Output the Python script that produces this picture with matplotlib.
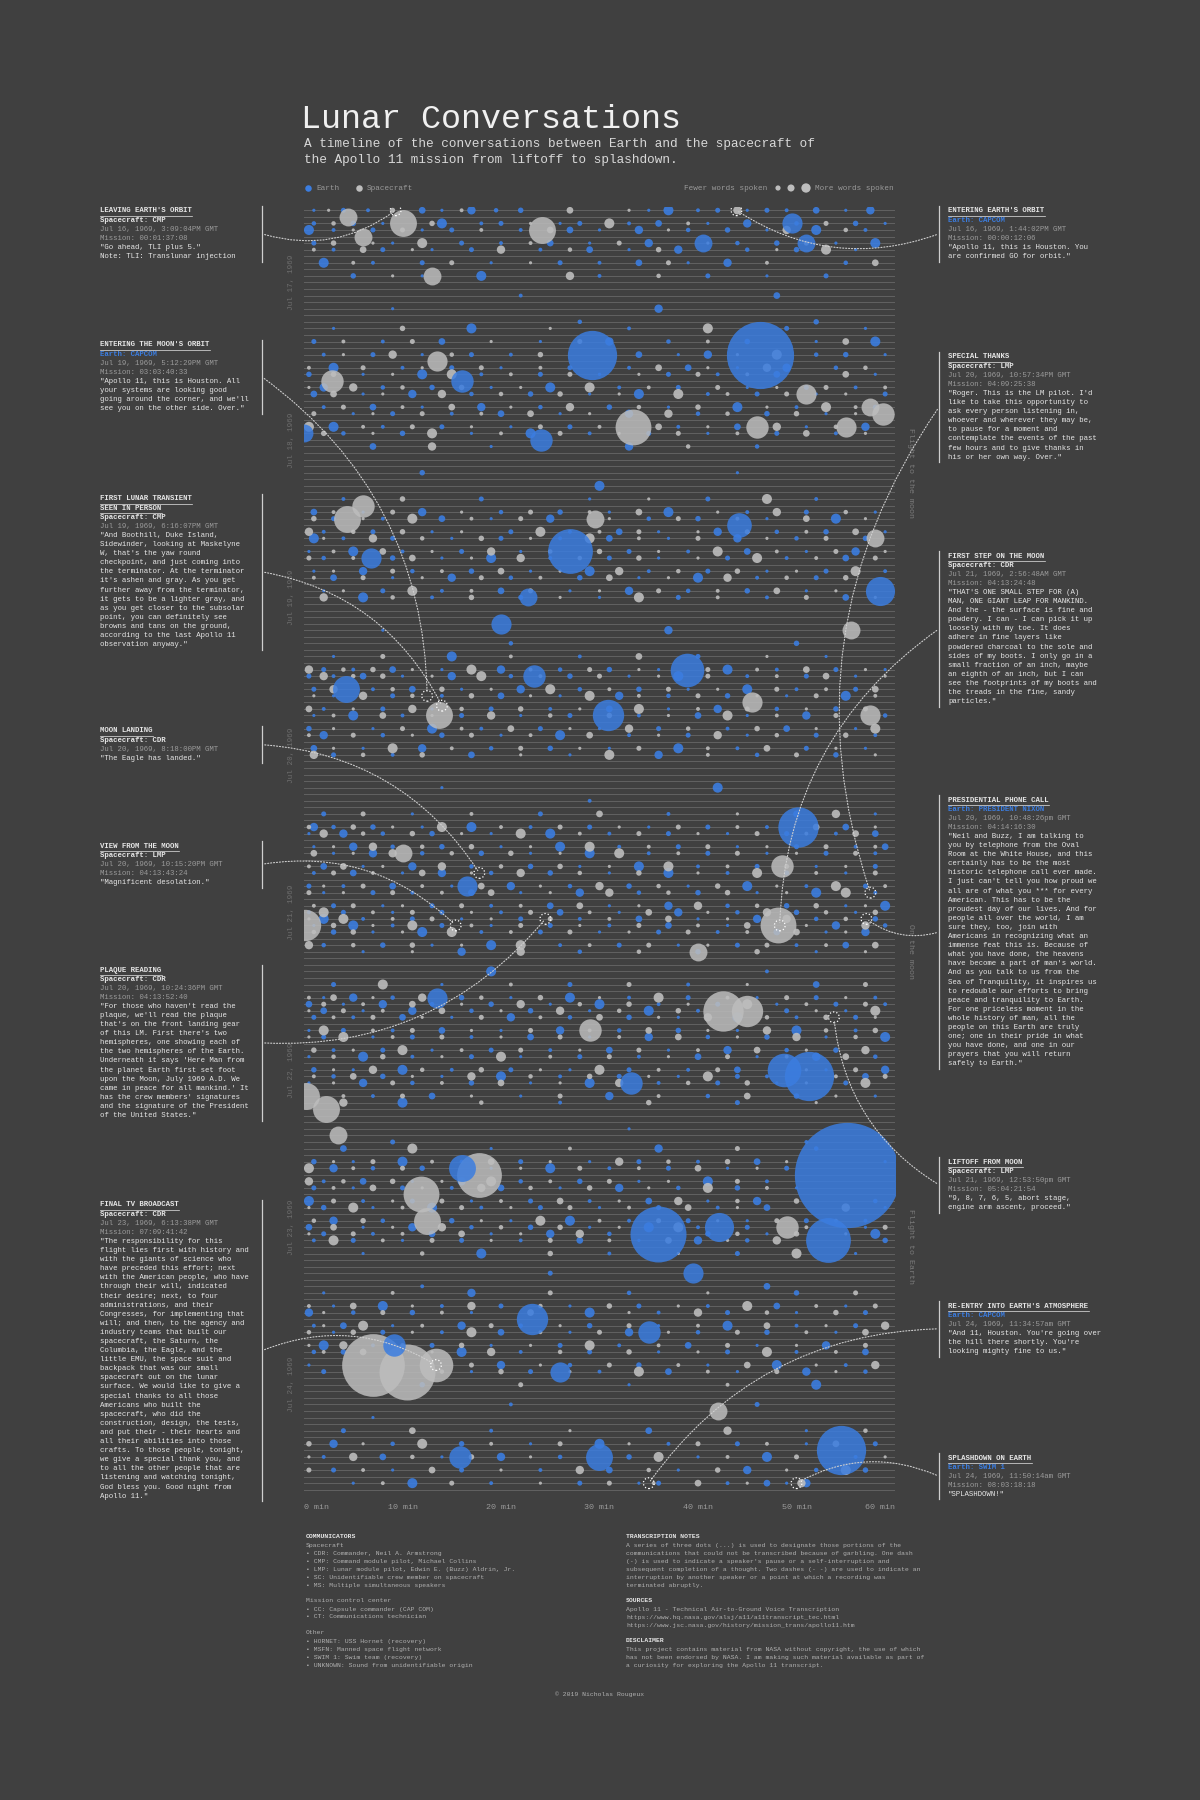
import matplotlib
matplotlib.use("Agg")
import matplotlib.pyplot as plt
import numpy as np

# ---------------- data ----------------
n_rows = 196
x_ticks = [0, 10, 20, 30, 40, 50, 60]
x_tick_labels = ["0 min", "10 min", "20 min", "30 min", "40 min", "50 min", "60 min"]
day_labels = ["Jul 17, 1969", "Jul 18, 1969", "Jul 19, 1969", "Jul 20, 1969",
              "Jul 21, 1969", "Jul 22, 1969", "Jul 23, 1969", "Jul 24, 1969"]
day_rows = [11, 35, 59, 83, 107, 131, 155, 179]

# large bubbles: row (hour), minute, words, speaker (E=Earth, S=Spacecraft)
big_rows = [2, 3, 22, 22, 33, 47, 52, 47, 48, 58, 70, 73, 71, 77, 77, 77, 94, 109, 109,
            122, 122, 132, 131, 135, 137, 147, 147, 150, 154, 156, 157, 155, 155, 176, 177,
            176, 169, 189, 190, 190, 173, 177, 35, 23, 26, 34, 33, 33, 31, 53, 59, 98, 120,
            133, 146, 171, 10, 5, 26, 28, 30, 45, 50, 63, 64, 75, 100, 103, 113, 125, 141,
            162, 183, 4, 1, 2, 5]
big_min = [10.0, 24.2, 29.2, 46.3, 33.4, 4.4, 27.0, 29.5, 44.2, 58.5, 38.9, 4.3, 23.3, 30.9,
           13.7, 57.5, 50.2, 0.1, 48.1, 42.5, 45.0, 51.3, 48.7, 0.2, 2.2, 55.1, 17.8, 11.9,
           12.5, 35.9, 53.2, 42.1, 49.0, 7.0, 10.5, 13.4, 23.1, 54.5, 29.9, 15.8, 9.1, 26.0,
           24.1, 13.5, 2.8, 0.0, 46.0, 55.0, 58.8, 6.8, 22.7, 10.0, 13.5, 33.2, 16.0, 35.0,
           13.0, 40.5, 16.0, 51.0, 57.5, 6.0, 58.0, 20.0, 55.5, 45.5, 48.5, 16.5, 40.0, 29.0,
           3.5, 39.5, 42.0, 6.0, 4.5, 49.5, 51.0]
big_words = [144, 144, 484, 900, 256, 144, 400, 64, 121, 169, 225, 144, 100, 196, 144, 81, 324,
             196, 256, 324, 196, 484, 225, 144, 144, 2209, 400, 256, 144, 625, 400, 169, 100,
             784, 625, 225, 196, 484, 144, 100, 100, 81, 100, 81, 100, 64, 100, 81, 100, 81, 64,
             64, 81, 100, 144, 100, 64, 64, 100, 81, 64, 100, 64, 81, 64, 81, 100, 81, 64, 100,
             64, 81, 64, 64, 64, 81, 64]
big_spk = list("SSEESSESEEEEEESSESSSSEESSESSSEEESSSSEEEEEEESSESSSEESEEEESEESSSSESSSESSSESSSEES")

# small dots per row: minutes for Earth and Spacecraft
earth_dots = {
    0: [1, 4, 6.5, 12, 14, 17, 19.5, 22, 35, 37, 40, 42, 45, 47, 49, 52, 55, 57.5],
    1: [3, 6, 9, 13, 16, 21, 25, 31, 38, 44, 49, 53, 58],
    2: [1, 5, 8, 14, 18, 20, 26, 28, 33, 36, 41, 45, 50, 56, 59],
    3: [0.5, 3, 7, 12, 15, 22, 27, 30, 34, 39, 43, 47, 52, 57],
    4: [2, 10, 14, 19, 23, 28, 32, 37, 42, 46, 51, 55],
    5: [1, 9, 16, 20, 25, 29, 35, 44, 48, 54, 58],
    6: [3, 8, 13, 17, 24, 29, 33, 38, 45, 50, 56],
    7: [0, 4, 11, 15, 21, 27, 31, 36, 41, 47, 52, 59],
    8: [2, 7, 12, 19, 26, 30, 34, 39, 43, 55],
    9: [1, 6, 16, 22, 28, 33, 37, 44, 50, 57],
    10: [5, 12, 18, 30, 41, 47, 53],
    13: [22, 48], 15: [9, 36], 17: [28, 52],
    18: [3, 17, 33, 49, 57], 19: [6, 21, 29, 40, 55],
    20: [1, 8, 14, 24, 31, 37, 45, 52, 58], 21: [4, 11, 19, 26, 35, 43, 50, 56],
    22: [2, 7, 12, 17, 21, 34, 38, 41, 52, 55, 59], 23: [1, 5, 9, 16, 25, 31, 36, 43, 51, 57],
    24: [3, 10, 15, 20, 27, 33, 39, 44, 49, 54], 25: [0.5, 6, 12, 18, 24, 30, 37, 42, 48, 58],
    26: [5, 9, 14, 22, 28, 35, 40, 47, 53, 57], 27: [2, 8, 13, 19, 25, 32, 38, 45, 51, 56],
    28: [1, 6, 11, 17, 23, 29, 34, 41, 46, 52, 59], 29: [4, 10, 16, 21, 27, 36, 43, 49, 55],
    30: [2, 7, 12, 18, 24, 31, 37, 44, 50, 58], 31: [5, 9, 15, 20, 26, 33, 40, 47, 53],
    32: [0.5, 6, 13, 19, 25, 30, 36, 42, 49, 56], 33: [3, 8, 14, 21, 27, 38, 44, 51, 57],
    34: [4, 10, 17, 23, 29, 35, 41, 48, 54], 35: [2, 9, 15, 30, 37, 43, 50, 59],
    36: [7, 19, 33, 46], 40: [12, 44], 42: [30],
    44: [4, 18, 29, 41, 52], 45: [2, 9, 15, 24, 33, 39, 48, 55],
    46: [1, 6, 12, 20, 26, 31, 37, 45, 51, 58], 47: [3, 8, 14, 19, 25, 35, 40, 47, 54],
    48: [0.5, 5, 11, 17, 23, 28, 33, 38, 49, 56], 49: [2, 7, 13, 21, 27, 32, 36, 42, 48, 53, 59],
    50: [1, 4, 9, 15, 20, 26, 31, 37, 44, 50, 57], 51: [3, 8, 12, 18, 24, 30, 35, 41, 46, 52, 58],
    52: [0.5, 5, 10, 16, 22, 33, 39, 45, 51, 56], 53: [2, 9, 14, 19, 25, 31, 36, 43, 49, 55],
    54: [4, 8, 13, 20, 26, 32, 38, 44, 50, 57], 55: [1, 6, 11, 17, 23, 29, 35, 41, 47, 53, 59],
    56: [3, 9, 15, 21, 28, 34, 40, 46, 52], 57: [5, 12, 18, 24, 31, 37, 43, 50, 56],
    58: [2, 8, 14, 20, 27, 33, 39, 45, 51], 59: [6, 13, 22, 30, 38, 47, 55],
    60: [10, 25, 41], 64: [8, 37], 66: [21, 50],
    68: [3, 15, 28, 40, 53], 69: [1, 7, 12, 19, 25, 32, 44, 50, 57],
    70: [2, 5, 9, 14, 20, 26, 31, 36, 43, 48, 54, 59], 71: [0.5, 3, 6, 10, 15, 21, 27, 33, 38, 45, 51, 56],
    72: [2, 5, 8, 12, 18, 24, 30, 35, 41, 47, 53, 58], 73: [1, 7, 11, 16, 22, 28, 34, 39, 45, 50, 56],
    74: [3, 9, 14, 20, 26, 32, 37, 43, 49, 55], 75: [0.5, 6, 11, 17, 23, 29, 35, 40, 46, 52, 58],
    76: [2, 8, 13, 19, 25, 31, 37, 42, 48, 54], 77: [1, 5, 10, 16, 22, 27, 34, 40, 45, 51, 59],
    78: [3, 9, 15, 21, 28, 34, 41, 47, 53], 79: [0.5, 7, 13, 18, 24, 30, 36, 43, 49, 56],
    80: [2, 8, 14, 20, 26, 33, 39, 45, 52, 58], 81: [4, 10, 16, 23, 29, 35, 42, 48, 55],
    82: [1, 6, 12, 19, 25, 31, 38, 44, 51, 57], 83: [3, 9, 17, 27, 36, 46, 54],
    84: [5, 20, 34, 50], 88: [14, 42], 90: [29],
    92: [2, 11, 24, 37, 50, 58], 93: [0.5, 5, 9, 14, 20, 27, 33, 40, 46, 53, 59],
    94: [1, 3, 7, 12, 17, 23, 29, 35, 41, 47, 55], 95: [0.5, 4, 8, 13, 19, 25, 31, 37, 43, 49, 54, 58],
    96: [2, 6, 10, 16, 21, 27, 33, 39, 45, 51, 57], 97: [1, 5, 9, 14, 20, 26, 32, 38, 44, 50, 56, 59],
    98: [3, 7, 12, 18, 23, 29, 35, 41, 47, 53, 58], 99: [0.5, 4, 9, 15, 21, 27, 33, 39, 45, 51, 57],
    100: [2, 6, 11, 17, 23, 28, 34, 40, 46, 52, 58], 101: [1, 5, 10, 14, 19, 25, 31, 37, 43, 49, 55],
    102: [3, 8, 12, 18, 24, 30, 36, 42, 48, 54, 59], 103: [0.5, 4, 9, 15, 21, 27, 33, 39, 45, 51, 57],
    104: [2, 7, 11, 17, 22, 28, 34, 40, 46, 52, 58], 105: [1, 5, 10, 16, 21, 27, 33, 39, 44, 50, 56],
    106: [3, 8, 13, 19, 25, 31, 37, 43, 49, 55, 59], 107: [0.5, 4, 9, 14, 20, 26, 32, 38, 44, 50, 56],
    108: [2, 6, 11, 16, 22, 28, 34, 40, 46, 52, 58], 109: [1, 5, 9, 14, 19, 25, 31, 37, 43, 54, 59],
    110: [3, 7, 12, 18, 24, 30, 36, 42, 48, 53, 57], 111: [0.5, 4, 10, 15, 21, 27, 33, 39, 45, 51, 56],
    112: [2, 8, 13, 19, 26, 32, 38, 44, 50, 55], 113: [6, 16, 28, 40, 52],
    116: [19, 47],
    118: [3, 14, 27, 39, 52], 119: [1, 6, 11, 18, 24, 31, 37, 44, 50, 57],
    120: [2, 5, 9, 16, 21, 27, 33, 39, 46, 52, 58], 121: [0.5, 4, 8, 13, 19, 25, 30, 36, 42, 48, 54, 59],
    122: [2, 6, 11, 17, 23, 29, 35, 40, 49, 55], 123: [1, 5, 10, 15, 21, 27, 33, 38, 44, 50, 56],
    124: [3, 8, 12, 18, 24, 30, 36, 41, 47, 53, 58], 125: [0.5, 4, 9, 14, 20, 26, 32, 38, 44, 50, 56],
    126: [2, 7, 11, 17, 23, 29, 35, 41, 47, 53, 59], 127: [1, 5, 10, 16, 21, 27, 33, 39, 45, 51, 57],
    128: [3, 8, 13, 19, 25, 31, 37, 43, 49, 54], 129: [0.5, 6, 11, 17, 22, 28, 34, 40, 46, 52, 58],
    130: [2, 7, 12, 18, 24, 30, 36, 42, 47, 56], 131: [1, 5, 10, 15, 21, 27, 33, 39, 44, 53, 59],
    132: [3, 8, 14, 20, 26, 32, 38, 44, 47, 57], 133: [0.5, 6, 11, 17, 23, 29, 36, 42, 48, 55],
    134: [4, 9, 15, 21, 27, 34, 40, 46, 53], 135: [7, 13, 22, 31, 41, 50, 58], 136: [10, 26, 44],
    140: [33], 142: [9, 51],
    143: [4, 19, 36, 52], 144: [2, 8, 13, 21, 28, 35, 41, 48, 56],
    145: [1, 5, 10, 16, 22, 29, 34, 40, 46, 59], 146: [3, 7, 12, 19, 25, 31, 37, 43, 49],
    147: [0.5, 4, 9, 14, 21, 27, 33, 39, 45], 148: [2, 6, 11, 16, 22, 28, 34, 41, 47],
    149: [1, 5, 10, 15, 20, 26, 32, 38, 44, 50], 150: [3, 8, 14, 19, 25, 31, 37, 43, 48],
    151: [0.5, 6, 11, 17, 23, 29, 35, 41, 46, 58], 152: [2, 7, 13, 18, 24, 30, 36, 42, 47, 59],
    153: [1, 5, 10, 16, 22, 28, 34, 40, 46, 58], 154: [3, 8, 15, 21, 27, 33, 39, 45, 51, 57],
    155: [0.5, 6, 11, 17, 23, 29, 35, 40, 45, 57], 156: [2, 7, 13, 19, 25, 31, 41, 47, 58],
    157: [1, 5, 10, 16, 22, 28, 34, 40, 45, 59], 158: [3, 9, 15, 22, 30, 38, 46, 55],
    159: [6, 18, 31, 44, 56], 162: [25], 164: [12, 47],
    165: [2, 17, 33, 50], 166: [1, 6, 12, 19, 26, 33, 40, 47, 54, 59],
    167: [3, 8, 14, 20, 27, 34, 41, 48, 55], 168: [0.5, 5, 11, 17, 29, 36, 43, 50, 57],
    169: [2, 7, 13, 19, 26, 32, 39, 46, 53, 58], 170: [1, 4, 9, 16, 22, 29, 36, 43, 50, 56],
    171: [3, 8, 14, 20, 27, 33, 40, 47, 54], 172: [0.5, 5, 11, 17, 24, 31, 38, 45, 52, 58],
    173: [2, 7, 13, 19, 26, 32, 39, 46, 53], 174: [1, 4, 9, 16, 22, 29, 36, 43, 50, 57],
    175: [3, 18, 25, 31, 38, 45, 52, 58], 176: [0.5, 20, 27, 34, 41, 48, 55],
    177: [2, 17, 23, 30, 37, 44, 51, 57], 178: [1, 8, 19, 28, 39, 49, 58], 179: [12, 33, 52],
    182: [21, 46], 184: [7],
    186: [4, 19, 35, 51], 187: [1, 6, 12, 20, 27, 34, 41, 48, 55],
    188: [3, 9, 16, 23, 30, 37, 44, 51, 58], 189: [0.5, 5, 11, 18, 25, 32, 39, 46, 59],
    190: [2, 8, 14, 20, 26, 33, 40, 47, 56], 191: [1, 6, 12, 19, 27, 35, 43, 50, 58],
    192: [3, 9, 16, 24, 31, 38, 45, 52, 57], 193: [2, 7, 13, 21, 29, 36, 44, 48, 52, 59],
    194: [5, 11, 19, 28, 34, 36, 43, 47, 49, 51],
}
craft_dots = {
    0: [2.5, 9, 16, 27, 33, 44], 1: [5, 11, 19, 29, 36, 47, 56], 2: [3, 13, 23, 31, 39, 53],
    3: [5, 10, 18, 25, 37, 49, 55], 4: [4, 8, 17, 26, 35, 44, 58], 5: [3, 7, 12, 23, 32, 41, 51],
    6: [1, 6, 11, 20, 27, 36, 48, 53], 7: [2, 9, 18, 24, 34, 44, 55], 8: [5, 15, 23, 37, 47, 58],
    9: [3, 13, 19, 26, 41, 53], 10: [9, 27, 36],
    18: [10, 25, 41], 19: [2, 14, 35, 48],
    20: [4, 11, 19, 28, 41, 55], 21: [1, 8, 15, 23, 31, 39, 47, 53], 22: [4, 9, 15, 24, 44, 48],
    23: [3, 11, 19, 28, 40, 47, 54], 24: [0.5, 6, 12, 18, 24, 36, 41, 47, 57], 25: [3, 9, 15, 21, 27, 34, 40, 45, 55],
    26: [2, 7, 11, 17, 25, 31, 38, 44, 50, 55], 27: [0.5, 5, 10, 16, 22, 29, 35, 42, 48, 53, 59],
    28: [3, 8, 14, 20, 26, 32, 38, 43, 49, 55], 29: [1, 7, 13, 19, 24, 30, 39, 46, 52, 58],
    30: [4, 10, 15, 21, 27, 34, 40, 47, 53, 56], 31: [1, 7, 12, 18, 23, 29, 37, 43, 50, 56],
    32: [3, 9, 16, 22, 28, 33, 39, 45, 52, 58], 33: [0.5, 6, 11, 17, 24, 30, 36, 41, 48, 54],
    34: [2, 7, 13, 20, 26, 32, 38, 44, 51, 57], 35: [5, 12, 19, 27, 34, 40, 47, 54], 36: [13, 39],
    44: [10, 35, 47], 45: [5, 12, 20, 29, 36, 44, 52], 46: [3, 9, 16, 23, 29, 34, 42, 48, 55],
    47: [1, 6, 11, 17, 22, 31, 38, 44, 51, 57], 48: [3, 8, 14, 20, 26, 31, 36, 42, 47, 53],
    49: [0.5, 5, 10, 16, 24, 30, 34, 40, 45, 51, 56], 50: [2, 7, 12, 18, 23, 29, 34, 40, 47, 53],
    51: [1, 5, 10, 15, 21, 27, 33, 38, 44, 49, 55], 52: [3, 8, 13, 19, 25, 30, 36, 42, 48, 54, 59],
    53: [0.5, 5, 11, 17, 22, 28, 34, 40, 46, 52, 58], 54: [2, 6, 10, 16, 23, 29, 35, 41, 47, 53],
    55: [3, 9, 14, 20, 26, 32, 38, 44, 50, 56], 56: [1, 6, 12, 18, 24, 31, 37, 43, 49, 55],
    57: [2, 8, 15, 21, 27, 34, 40, 47, 53, 59], 58: [4, 11, 17, 23, 30, 36, 42, 48, 54],
    59: [2, 9, 17, 26, 34, 42, 51, 58], 60: [16, 33, 48],
    68: [8, 21, 34, 47], 69: [4, 10, 16, 22, 29, 38, 47, 54],
    70: [0.5, 4, 7, 11, 17, 23, 29, 34, 41, 46, 51, 57], 71: [2, 5, 8, 13, 18, 24, 30, 36, 41, 48, 53, 59],
    72: [0.5, 3, 7, 10, 15, 21, 27, 33, 38, 44, 50, 56], 73: [3, 9, 14, 19, 25, 31, 37, 42, 48, 53, 58],
    74: [1, 6, 11, 17, 23, 29, 34, 40, 46, 52, 58], 75: [3, 9, 14, 20, 26, 32, 38, 43, 49, 55],
    76: [0.5, 5, 11, 16, 22, 28, 34, 40, 45, 51, 57], 77: [3, 8, 13, 19, 25, 31, 37, 43, 48, 54],
    78: [0.5, 6, 12, 18, 24, 31, 37, 44, 50, 56], 79: [3, 10, 16, 21, 27, 33, 39, 46, 52, 58],
    80: [0.5, 5, 11, 17, 23, 29, 36, 42, 48, 55], 81: [1, 7, 13, 19, 26, 32, 38, 45, 51, 58],
    82: [3, 9, 15, 22, 28, 34, 41, 47, 54], 83: [1, 6, 12, 22, 31, 41, 50, 58], 84: [12, 27, 43],
    92: [6, 17, 30, 44, 54], 93: [2, 7, 11, 17, 23, 30, 36, 43, 50, 56],
    94: [0.5, 5, 9, 14, 20, 26, 32, 38, 44, 52, 58], 95: [2, 6, 11, 16, 22, 28, 34, 40, 46, 51, 56],
    96: [0.5, 4, 8, 13, 19, 24, 30, 36, 42, 48, 54, 59], 97: [3, 7, 12, 17, 23, 29, 35, 41, 47, 53, 58],
    98: [1, 5, 9, 15, 21, 26, 32, 38, 44, 50, 56], 99: [2, 6, 12, 18, 24, 30, 36, 42, 48, 54],
    100: [0.5, 4, 8, 14, 20, 26, 31, 37, 43, 49, 55], 101: [3, 7, 12, 17, 22, 28, 34, 40, 46, 52, 58],
    102: [1, 5, 10, 15, 21, 27, 33, 39, 45, 51, 57], 103: [2, 6, 12, 18, 24, 30, 36, 42, 48, 54, 59],
    104: [0.5, 4, 9, 14, 19, 25, 31, 37, 43, 49, 55], 105: [3, 7, 13, 18, 24, 30, 36, 42, 47, 53, 58],
    106: [1, 5, 10, 16, 22, 28, 34, 40, 46, 52, 57], 107: [2, 7, 11, 17, 23, 29, 35, 41, 47, 53, 58],
    108: [0.5, 4, 9, 13, 19, 25, 31, 37, 43, 49, 55], 109: [3, 7, 11, 17, 22, 28, 34, 40, 45, 51, 57],
    110: [1, 5, 10, 15, 21, 27, 33, 39, 45, 50, 55], 111: [2, 7, 12, 18, 24, 30, 36, 42, 48, 54, 59],
    112: [0.5, 5, 11, 16, 22, 29, 35, 41, 47, 53, 58], 113: [11, 22, 34, 46, 57],
    118: [8, 21, 33, 45, 57], 119: [3, 9, 15, 21, 28, 34, 41, 47, 54],
    120: [0.5, 3, 7, 12, 18, 24, 30, 36, 43, 49, 55], 121: [2, 6, 11, 16, 22, 28, 33, 39, 45, 51, 57],
    122: [0.5, 4, 8, 14, 20, 26, 32, 38, 52, 58], 123: [3, 7, 12, 18, 24, 30, 36, 41, 47, 53, 58],
    124: [1, 5, 10, 15, 21, 27, 33, 39, 44, 50, 56], 125: [2, 7, 11, 17, 23, 29, 35, 41, 47, 53, 58],
    126: [0.5, 4, 9, 14, 20, 26, 32, 38, 44, 50, 56], 127: [3, 7, 13, 18, 24, 30, 36, 42, 48, 54, 59],
    128: [1, 5, 10, 16, 22, 28, 34, 40, 46, 51, 57], 129: [3, 8, 14, 20, 25, 31, 37, 43, 49, 55],
    130: [0.5, 5, 10, 15, 21, 27, 33, 39, 45, 50, 58], 131: [3, 7, 12, 18, 24, 30, 36, 42, 51, 56],
    132: [1, 5, 11, 17, 23, 29, 35, 41, 54, 59], 133: [3, 9, 14, 20, 26, 32, 39, 45, 51, 57],
    134: [1, 6, 12, 18, 24, 30, 37, 43, 49, 56], 135: [4, 10, 17, 26, 36, 45, 54], 136: [4, 18, 35, 52],
    143: [11, 27, 44], 144: [5, 11, 17, 24, 31, 38, 45, 52],
    145: [3, 7, 13, 19, 25, 32, 37, 43, 49], 146: [0.5, 5, 10, 22, 28, 34, 40, 46],
    147: [2, 7, 12, 24, 30, 36, 42, 47], 148: [0.5, 4, 9, 14, 19, 25, 31, 37, 44],
    149: [3, 7, 12, 18, 23, 29, 35, 41, 47], 150: [1, 5, 17, 22, 28, 34, 40, 46],
    151: [3, 9, 14, 20, 26, 32, 38, 44, 50], 152: [0.5, 5, 10, 16, 21, 27, 33, 39, 44, 55],
    153: [3, 8, 13, 19, 25, 31, 37, 43, 49, 56], 154: [1, 6, 18, 24, 30, 36, 42, 48, 54],
    155: [3, 9, 14, 20, 26, 32, 38, 51, 59], 156: [0.5, 5, 10, 16, 22, 28, 44, 50, 55],
    157: [3, 8, 13, 19, 25, 31, 37, 43, 48], 158: [0.5, 6, 12, 19, 26, 34, 42, 50, 58], 159: [12, 25, 38, 50],
    165: [9, 25, 41, 56], 166: [3, 9, 16, 23, 30, 37, 44, 51, 57],
    167: [0.5, 5, 11, 17, 24, 31, 38, 45, 52, 58], 168: [2, 8, 14, 23, 33, 40, 47, 54],
    169: [0.5, 4, 10, 16, 29, 36, 43, 50, 55], 170: [2, 6, 12, 19, 26, 33, 40, 47, 53, 59],
    171: [0.5, 5, 11, 17, 24, 30, 37, 44, 51, 57], 172: [2, 8, 14, 21, 28, 35, 42, 49, 55],
    173: [0.5, 4, 10, 16, 23, 29, 36, 43, 50, 57], 174: [2, 6, 13, 19, 26, 33, 40, 47, 54],
    175: [0.5, 15, 22, 28, 35, 42, 49, 55], 176: [17, 24, 31, 38, 45, 52, 58],
    177: [14, 20, 27, 34, 41, 48, 54], 178: [4, 14, 24, 34, 44, 54], 179: [22, 43],
    186: [11, 27, 43, 57], 187: [3, 9, 16, 23, 30, 37, 44, 51, 58],
    188: [0.5, 6, 12, 19, 26, 33, 40, 47, 54], 189: [2, 8, 14, 21, 28, 35, 42, 49, 56],
    190: [0.5, 5, 11, 17, 23, 36, 43, 50, 59], 191: [3, 9, 15, 23, 31, 39, 46, 54],
    192: [0.5, 6, 13, 20, 28, 35, 42, 49, 55], 193: [4, 10, 17, 25, 33, 40, 46, 55],
    194: [8, 15, 24, 31, 35.5, 40, 45, 50.5],
}
# hours with no small-dot chatter in the reference (sleep / quiet periods)
quiet_rows = [1, 4, 7, 9, 19, 21, 23, 26, 29, 32, 35, 45, 48, 51, 54, 57, 60, 69, 72, 75, 78,
              81, 84, 93, 96, 99, 102, 105, 111, 119, 124, 127, 130, 134, 144, 147, 150, 153,
              158, 166, 169, 172, 175, 178, 187, 189, 191, 193]
# small word counts used for small dots (read as 2-20 words)
small_word_cycle = [2, 5, 3, 9, 2, 14, 4, 6, 2, 20, 3, 5]

# highlighted moments: row, minute
hl_rows = [0, 0, 74, 75.5, 101, 109, 108, 176, 104, 109, 108, 123, 194, 194]
hl_min = [9.3, 43.9, 12.5, 14.0, 17.8, 15.4, 24.5, 13.4, 57.5, 48.3, 57.1, 53.8, 35.0, 50.0]

# ---------------- style ----------------
BG = "#404040"
BLUE = "#3b7de0"
GREY = "#bdbdbd"
TXT = "#e6e6e6"
DIM = "#9a9a9a"
MONO = ["Liberation Mono", "DejaVu Sans Mono"]

W, H = 1200, 1800
fig = plt.figure(figsize=(12, 18), dpi=100, facecolor=BG)

def fx(x): return x / W
def fy(y): return 1 - y / H

ax_l, ax_r, ax_t, ax_b = 304, 895, 207, 1493
ax = fig.add_axes([fx(ax_l), fy(ax_b), fx(ax_r - ax_l), (ax_b - ax_t) / H])
ax.set_facecolor(BG)
ax.set_xlim(0, 60)
ax.set_ylim(n_rows - 0.5, -0.5)
for s in ax.spines.values():
    s.set_visible(False)
ax.set_yticks([])
ax.set_xticks(x_ticks)
ax.set_xticklabels(x_tick_labels, fontfamily=MONO, fontsize=6, color=DIM)
ax.tick_params(axis="x", length=0, pad=8)
ax.xaxis.get_majorticklabels()[0].set_ha("left")
ax.xaxis.get_majorticklabels()[-1].set_ha("right")

for r in range(n_rows):
    ax.axhline(r, color="#626262", lw=0.7, zorder=1)

SC = 2.6  # marker area per word

quiet = set(quiet_rows)
for dots, col in ((earth_dots, BLUE), (craft_dots, GREY)):
    xs, ys, ss = [], [], []
    k = 0
    for r, mins in dots.items():
        if r in quiet:
            continue
        for m in mins:
            xs.append(m); ys.append(r)
            ss.append(small_word_cycle[k % len(small_word_cycle)] * SC)
            k += 1
    ax.scatter(xs, ys, s=ss, color=col, alpha=0.9, lw=0, zorder=3)

for r, m, w, sp in zip(big_rows, big_min, big_words, big_spk):
    ax.scatter([m], [r], s=[w * SC], color=BLUE if sp == "E" else GREY,
               alpha=0.85, lw=0, zorder=4)

ax.scatter(hl_min, hl_rows, s=60, facecolors="none", edgecolors="white",
           linestyles=":", lw=0.9, zorder=6)

for lab, r in zip(day_labels, day_rows):
    ax.text(-0.9, r, lab, rotation=90, ha="right", va="center", fontsize=5.5,
            fontfamily=MONO, color="#6e6e6e")

for lab, r in (("Flight to the moon", 40), ("On the moon", 113), ("Flight to Earth", 158)):
    ax.text(61.2, r, lab, rotation=270, ha="left", va="center", fontsize=6,
            fontfamily=MONO, color="#7a7a7a")

# ---------------- title & legend ----------------
fig.text(fx(301), fy(120), "Lunar Conversations", fontfamily=MONO, fontsize=24,
         color="#f0f0f0", va="center")
fig.text(fx(304), fy(144), "A timeline of the conversations between Earth and the spacecraft of",
         fontfamily=MONO, fontsize=9.2, color="#d8d8d8", va="center")
fig.text(fx(304), fy(160), "the Apollo 11 mission from liftoff to splashdown.",
         fontfamily=MONO, fontsize=9.2, color="#d8d8d8", va="center")

leg = fig.add_axes([0, 0, 1, 1], facecolor="none")
leg.set_xlim(0, W); leg.set_ylim(H, 0); leg.axis("off")
leg.scatter([308], [188], s=22, color=BLUE, lw=0)
leg.text(316, 188, "Earth", fontfamily=MONO, fontsize=5.5, color=DIM, va="center")
leg.scatter([359], [188], s=22, color=GREY, lw=0)
leg.text(367, 188, "Spacecraft", fontfamily=MONO, fontsize=5.5, color=DIM, va="center")
leg.text(767, 188, "Fewer words spoken", fontfamily=MONO, fontsize=5.5, color=DIM,
         va="center", ha="right")
leg.scatter([778, 791, 806], [188, 188, 188], s=[14, 26, 45], color=GREY, lw=0)
leg.text(815, 188, "More words spoken", fontfamily=MONO, fontsize=5.5, color=DIM, va="center")

# ---------------- annotations ----------------
LH = 9.1
FS = 5.3

def annotate_block(x, y, title, speaker, earth, date, mission, quote, bar_x, target, side):
    yy = y
    for t in title:
        leg.text(x, yy, t, fontfamily=MONO, fontsize=FS, color=TXT, fontweight="bold", va="center")
        leg.plot([x, x + len(t) * 4.4], [yy + 4.5, yy + 4.5], color=TXT, lw=0.5)
        yy += LH
    leg.text(x, yy, speaker, fontfamily=MONO, fontsize=FS, color=BLUE if earth else TXT,
             fontweight="bold", va="center"); yy += LH
    leg.text(x, yy, date, fontfamily=MONO, fontsize=FS, color=DIM, va="center"); yy += LH
    if mission:
        leg.text(x, yy, mission, fontfamily=MONO, fontsize=FS, color=DIM, va="center"); yy += LH
    for q in quote:
        leg.text(x, yy, q, fontfamily=MONO, fontsize=FS, color=TXT, va="center"); yy += LH
    top, bot = y - 5, yy - 4
    leg.plot([bar_x, bar_x], [top, bot], color="#cfcfcf", lw=0.9)
    tx, ty = target
    disp = ax.transData.transform((tx, ty))
    inv = leg.transData.inverted().transform(disp)
    sy = (top + bot) / 2
    rad = -0.25 if side == "L" else 0.25
    if inv[1] < sy:
        rad = -rad
    leg.annotate("", xy=(inv[0], inv[1]), xytext=(bar_x, sy),
                 arrowprops=dict(arrowstyle="-", linestyle=":", color="#d0d0d0", lw=0.8,
                                 connectionstyle=f"arc3,rad={rad}"), annotation_clip=False)

LX, LB = 100, 262
RX, RB = 948, 939

annotate_block(LX, 211, ["LEAVING EARTH'S ORBIT"], "Spacecraft: CMP", False,
               "Jul 16, 1969, 3:09:04PM GMT", "Mission: 00:01:37:08",
               ['"Go ahead, TLI plus 5."', "Note: TLI: Translunar injection"], LB, (9.3, 0), "L")
annotate_block(LX, 345, ["ENTERING THE MOON'S ORBIT"], "Earth: CAPCOM", True,
               "Jul 19, 1969, 5:12:29PM GMT", "Mission: 03:03:40:33",
               ['"Apollo 11, this is Houston. All', "your systems are looking good",
                "going around the corner, and we'll", 'see you on the other side. Over."'],
               LB, (12.5, 74), "L")
annotate_block(LX, 499, ["FIRST LUNAR TRANSIENT", "SEEN IN PERSON"], "Spacecraft: CMP", False,
               "Jul 19, 1969, 6:16:07PM GMT", "",
               ['"And Boothill, Duke Island,', "Sidewinder, looking at Maskelyne",
                "W, that's the yaw round", "checkpoint, and just coming into",
                "the terminator. At the terminator", "it's ashen and gray. As you get",
                "further away from the terminator,", "it gets to be a lighter gray, and",
                "as you get closer to the subsolar", "point, you can definitely see",
                "browns and tans on the ground,", "according to the last Apollo 11",
                'observation anyway."'], LB, (14.0, 75.5), "L")
annotate_block(LX, 731, ["MOON LANDING"], "Spacecraft: CDR", False,
               "Jul 20, 1969, 8:18:00PM GMT", "", ['"The Eagle has landed."'],
               LB, (17.8, 101), "L")
annotate_block(LX, 846, ["VIEW FROM THE MOON"], "Spacecraft: LMP", False,
               "Jul 20, 1969, 10:15:20PM GMT", "Mission: 04:13:43:24",
               ['"Magnificent desolation."'], LB, (15.4, 109), "L")
annotate_block(LX, 970, ["PLAQUE READING"], "Spacecraft: CDR", False,
               "Jul 20, 1969, 10:24:36PM GMT", "Mission: 04:13:52:40",
               ['"For those who haven\'t read the', "plaque, we'll read the plaque",
                "that's on the front landing gear", "of this LM. First there's two",
                "hemispheres, one showing each of", "the two hemispheres of the Earth.",
                "Underneath it says 'Here Man from", "the planet Earth first set foot",
                "upon the Moon, July 1969 A.D. We", "came in peace for all mankind.' It",
                "has the crew members' signatures", "and the signature of the President",
                'of the United States."'], LB, (24.5, 108), "L")
annotate_block(LX, 1205, ["FINAL TV BROADCAST"], "Spacecraft: CDR", False,
               "Jul 23, 1969, 6:13:38PM GMT", "Mission: 07:09:41:42",
               ['"The responsibility for this', "flight lies first with history and",
                "with the giants of science who", "have preceded this effort; next",
                "with the American people, who have", "through their will, indicated",
                "their desire; next, to four", "administrations, and their",
                "Congresses, for implementing that", "will; and then, to the agency and",
                "industry teams that built our", "spacecraft, the Saturn, the",
                "Columbia, the Eagle, and the", "little EMU, the space suit and",
                "backpack that was our small", "spacecraft out on the lunar",
                "surface. We would like to give a", "special thanks to all those",
                "Americans who built the", "spacecraft, who did the",
                "construction, design, the tests,", "and put their - their hearts and",
                "all their abilities into those", "crafts. To those people, tonight,",
                "we give a special thank you, and", "to all the other people that are",
                "listening and watching tonight,", "God bless you. Good night from",
                'Apollo 11."'], LB, (13.4, 176), "L")

annotate_block(RX, 211, ["ENTERING EARTH'S ORBIT"], "Earth: CAPCOM", True,
               "Jul 16, 1969, 1:44:02PM GMT", "Mission: 00:00:12:06",
               ['"Apollo 11, this is Houston. You', 'are confirmed GO for orbit."'],
               RB, (43.9, 0), "R")
annotate_block(RX, 357, ["SPECIAL THANKS"], "Spacecraft: LMP", False,
               "Jul 20, 1969, 10:57:34PM GMT", "Mission: 04:09:25:38",
               ['"Roger. This is the LM pilot. I\'d', "like to take this opportunity to",
                "ask every person listening in,", "whoever and wherever they may be,",
                "to pause for a moment and", "contemplate the events of the past",
                "few hours and to give thanks in", 'his or her own way. Over."'],
               RB, (57.5, 104), "R")
annotate_block(RX, 556, ["FIRST STEP ON THE MOON"], "Spacecraft: CDR", False,
               "Jul 21, 1969, 2:56:48AM GMT", "Mission: 04:13:24:48",
               ['"THAT\'S ONE SMALL STEP FOR (A)', "MAN, ONE GIANT LEAP FOR MANKIND.",
                "And the - the surface is fine and", "powdery. I can - I can pick it up",
                "loosely with my toe. It does", "adhere in fine layers like",
                "powdered charcoal to the sole and", "sides of my boots. I only go in a",
                "small fraction of an inch, maybe", "an eighth of an inch, but I can",
                "see the footprints of my boots and", "the treads in the fine, sandy",
                'particles."'], RB, (48.3, 109), "R")
annotate_block(RX, 800, ["PRESIDENTIAL PHONE CALL"], "Earth: PRESIDENT NIXON", True,
               "Jul 20, 1969, 10:48:26pm GMT", "Mission: 04:14:16:30",
               ['"Neil and Buzz, I am talking to', "you by telephone from the Oval",
                "Room at the White House, and this", "certainly has to be the most",
                "historic telephone call ever made.", "I just can't tell you how proud we",
                "all are of what you *** for every", "American. This has to be the",
                "proudest day of our lives. And for", "people all over the world, I am",
                "sure they, too, join with", "Americans in recognizing what an",
                "immense feat this is. Because of", "what you have done, the heavens",
                "have become a part of man's world.", "And as you talk to us from the",
                "Sea of Tranquility, it inspires us", "to redouble our efforts to bring",
                "peace and tranquility to Earth.", "For one priceless moment in the",
                "whole history of man, all the", "people on this Earth are truly",
                "one; one in their pride in what", "you have done, and one in our",
                "prayers that you will return", 'safely to Earth."'], RB, (57.1, 108), "R")
annotate_block(RX, 1162, ["LIFTOFF FROM MOON"], "Spacecraft: LMP", False,
               "Jul 21, 1969, 12:53:50pm GMT", "Mission: 05:04:21:54",
               ['"9, 8, 7, 6, 5, abort stage,', 'engine arm ascent, proceed."'],
               RB, (53.8, 123), "R")
annotate_block(RX, 1306, ["RE-ENTRY INTO EARTH'S ATMOSPHERE"], "Earth: CAPCOM", True,
               "Jul 24, 1969, 11:34:57am GMT", "",
               ['"And 11, Houston. You\'re going over', "the hill there shortly. You're",
                'looking mighty fine to us."'], RB, (35.0, 194), "R")
annotate_block(RX, 1458, ["SPLASHDOWN ON EARTH"], "Earth: SWIM 1", True,
               "Jul 24, 1969, 11:50:14am GMT", "Mission: 08:03:18:18",
               ['"SPLASHDOWN!"'], RB, (50.0, 194), "R")

# ---------------- footer ----------------
FF = 4.6
FL = 8.0
left_notes = [("COMMUNICATORS", True), ("Spacecraft", False),
              ("• CDR: Commander, Neil A. Armstrong", False),
              ("• CMP: Command module pilot, Michael Collins", False),
              ("• LMP: Lunar module pilot, Edwin E. (Buzz) Aldrin, Jr.", False),
              ("• SC: Unidentifiable crew member on spacecraft", False),
              ("• MS: Multiple simultaneous speakers", False), ("", False),
              ("Mission control center", False),
              ("• CC: Capsule commander (CAP COM)", False),
              ("• CT: Communications technician", False), ("", False),
              ("Other", False), ("• HORNET: USS Hornet (recovery)", False),
              ("• MSFN: Manned space flight network", False),
              ("• SWIM 1: Swim team (recovery)", False),
              ("• UNKNOWN: Sound from unidentifiable origin", False)]
right_notes = [("TRANSCRIPTION NOTES", True),
               ("A series of three dots (...) is used to designate those portions of the", False),
               ("communications that could not be transcribed because of garbling. One dash", False),
               ("(-) is used to indicate a speaker's pause or a self-interruption and", False),
               ("subsequent completion of a thought. Two dashes (- -) are used to indicate an", False),
               ("interruption by another speaker or a point at which a recording was", False),
               ("terminated abruptly.", False), ("", False),
               ("SOURCES", True),
               ("Apollo 11 - Technical Air-to-Ground Voice Transcription", False),
               ("https://www.hq.nasa.gov/alsj/a11/a11transcript_tec.html", False),
               ("https://www.jsc.nasa.gov/history/mission_trans/apollo11.htm", False), ("", False),
               ("DISCLAIMER", True),
               ("This project contains material from NASA without copyright, the use of which", False),
               ("has not been endorsed by NASA. I am making such material available as part of", False),
               ("a curiosity for exploring the Apollo 11 transcript.", False)]
for notes, x0 in ((left_notes, 306), (right_notes, 626)):
    for i, (t, b) in enumerate(notes):
        leg.text(x0, 1537 + i * FL, t, fontfamily=MONO, fontsize=FF,
                 color=TXT if b else "#b0b0b0", fontweight="bold" if b else "normal", va="center")

leg.text(600, 1694, "© 2019 Nicholas Rougeux", fontfamily=MONO, fontsize=4.6,
         color="#b0b0b0", ha="center", va="center")

fig.savefig("out.png", dpi=100, facecolor=BG)
